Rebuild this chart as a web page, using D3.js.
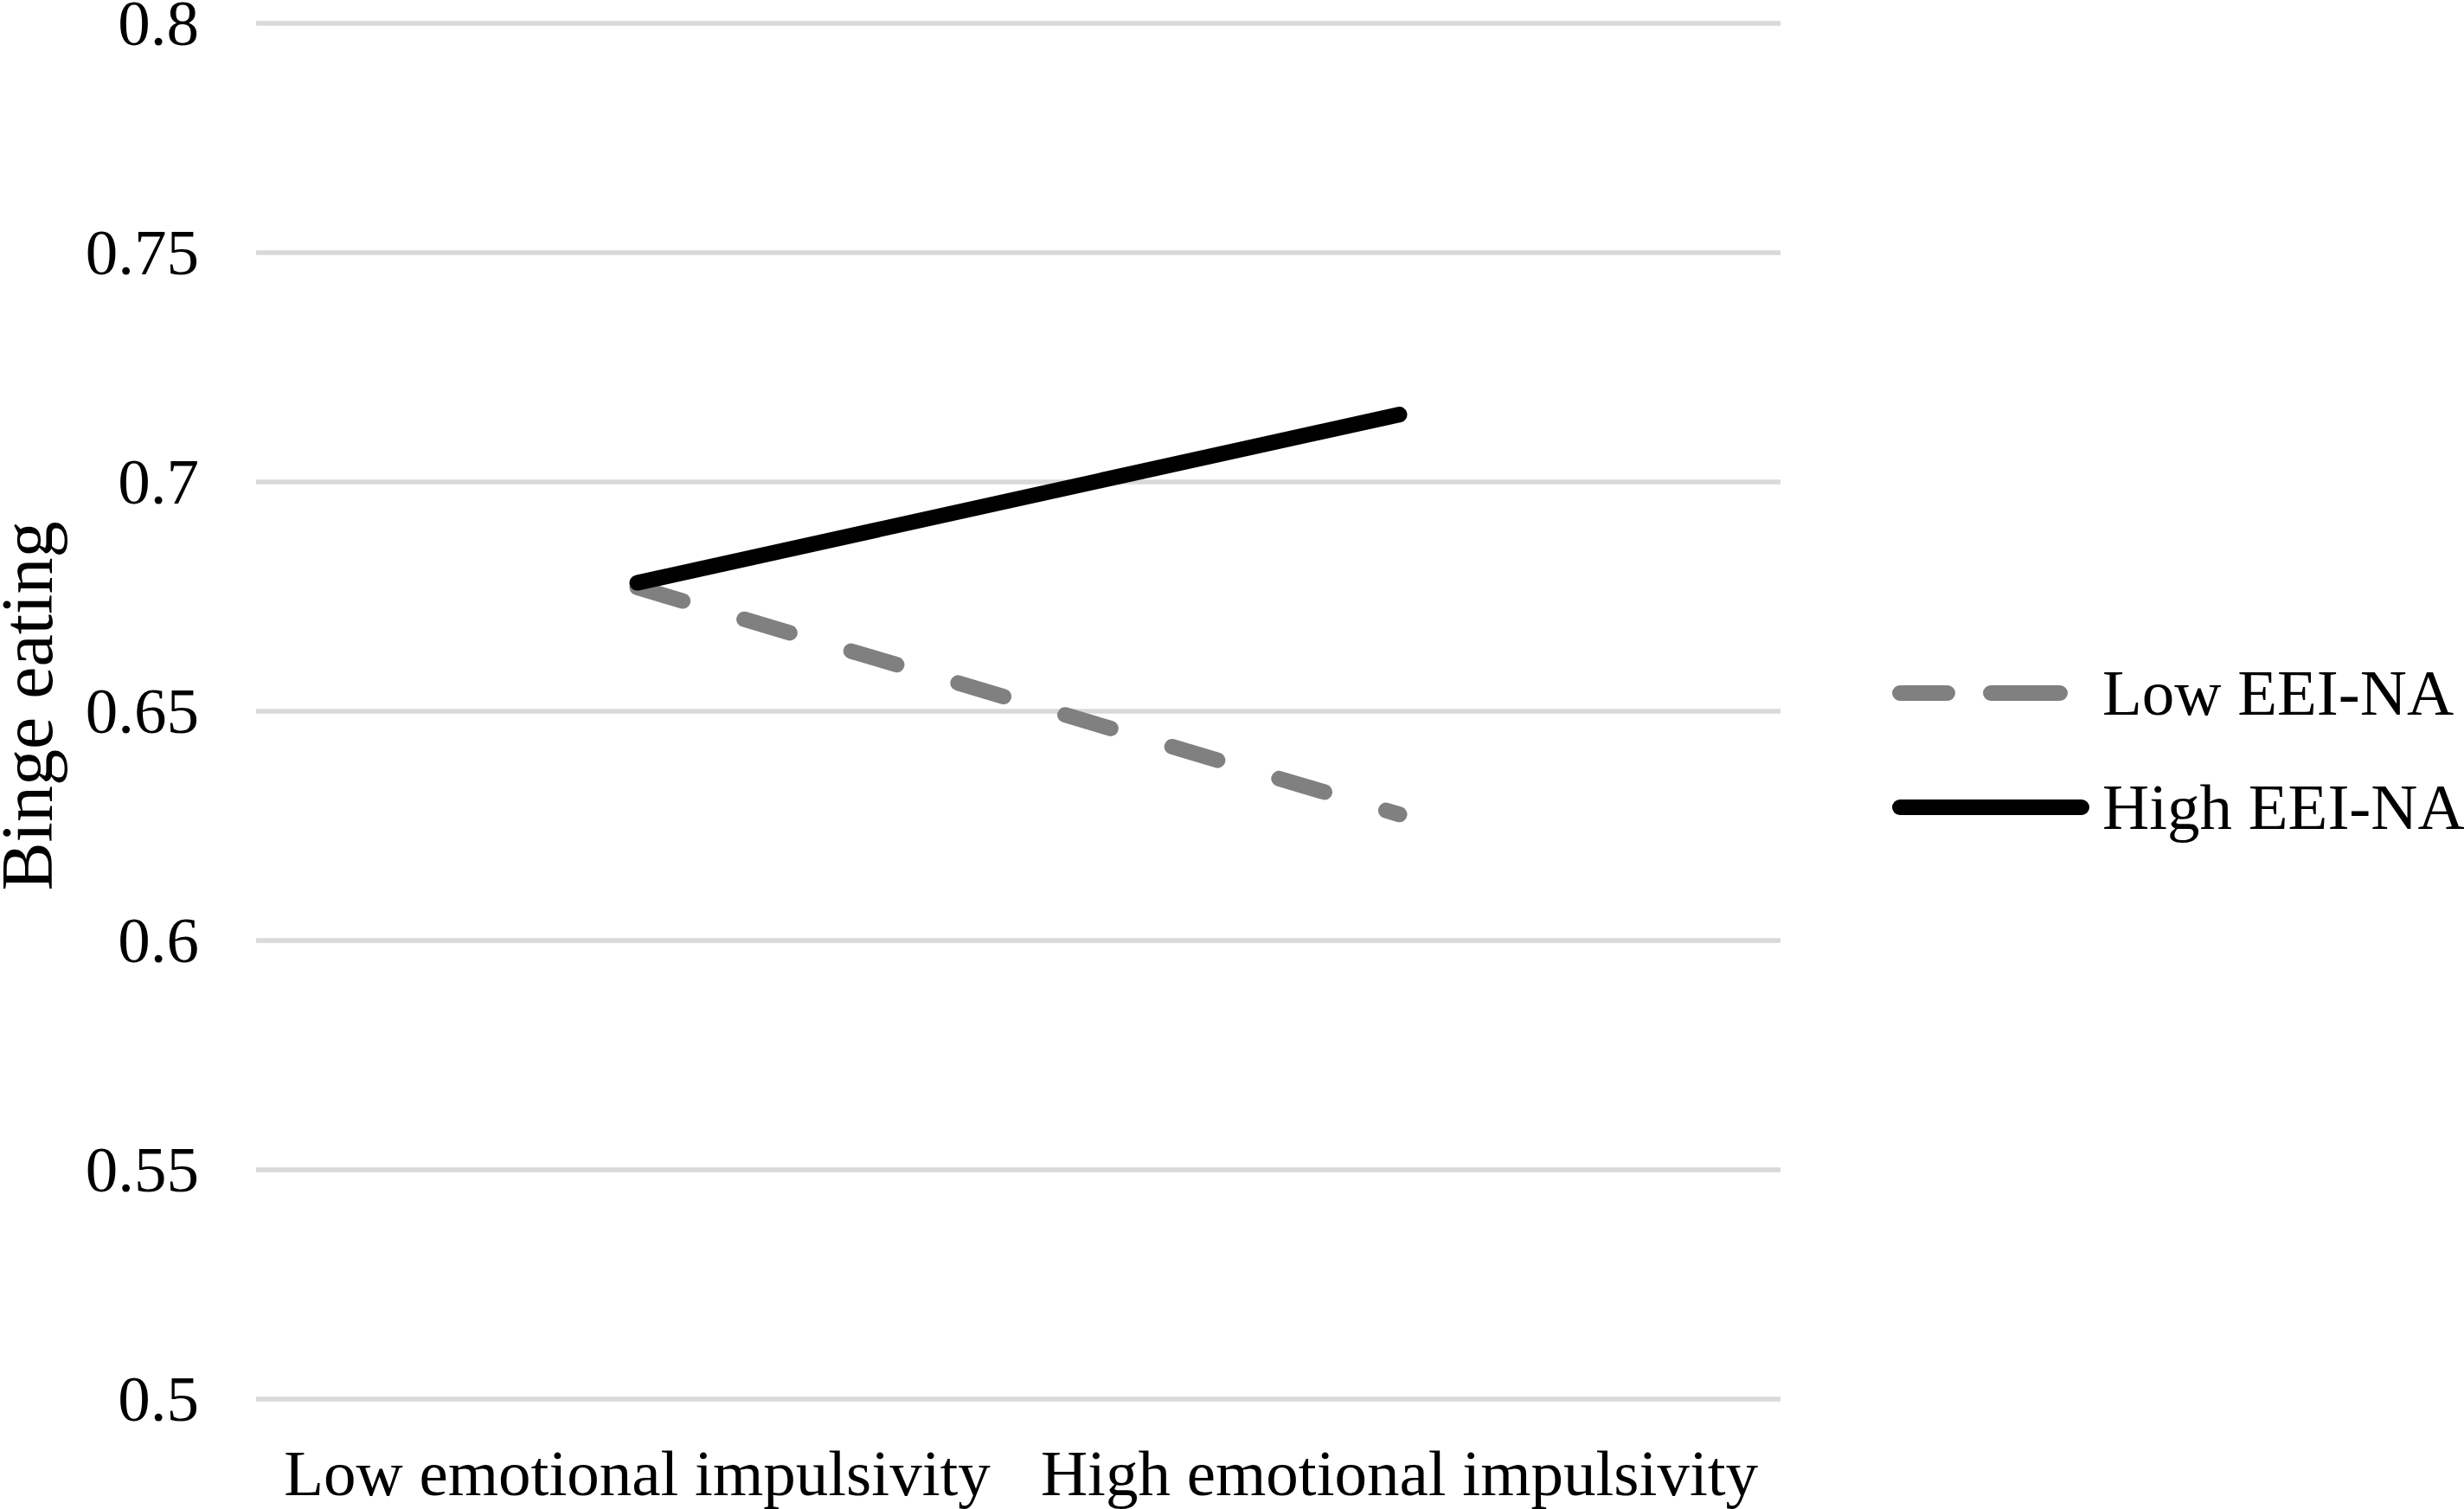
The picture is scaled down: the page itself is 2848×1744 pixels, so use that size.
<!DOCTYPE html>
<html>
<head>
<meta charset="utf-8">
<script src="https://cdn.jsdelivr.net/npm/d3@7"></script>
<style>
  html, body { margin: 0; padding: 0; background: #ffffff; }
  svg { display: block; }
  text { font-family: "Liberation Serif", "Times New Roman", serif; fill: #000; }
</style>
</head>
<body>
<script>
// ---- data ----
const categories = ["Low emotional impulsivity", "High emotional impulsivity"];
const seriesNames = ["Low EEI-NA", "High EEI-NA"];
const lowEEINA = [0.677, 0.6275];
const highEEINA = [0.678, 0.7147];
const yTicks = [0.5, 0.55, 0.6, 0.65, 0.7, 0.75, 0.8];
const yTickLabels = ["0.5", "0.55", "0.6", "0.65", "0.7", "0.75", "0.8"];
const yTitle = "Binge eating";

// ---- layout ----
const W = 2848, H = 1744;
const plotLeft = 296, plotRight = 2058, plotTop = 27, plotBottom = 1617;

const svg = d3.select("body").append("svg")
  .attr("width", W).attr("height", H)
  .attr("viewBox", `0 0 ${W} ${H}`);
svg.append("rect").attr("width", W).attr("height", H).attr("fill", "#ffffff");

const x = d3.scaleBand().domain(categories).range([plotLeft, plotRight]).padding(0);
const y = d3.scaleLinear().domain([0.5, 0.8]).range([plotBottom, plotTop]);
const cx = c => x(c) + x.bandwidth() / 2;

// gridlines
svg.append("g").selectAll("line").data(yTicks).join("line")
  .attr("x1", plotLeft).attr("x2", plotRight)
  .attr("y1", d => y(d)).attr("y2", d => y(d))
  .attr("stroke", "#d9d9d9").attr("stroke-width", 5.5);

// y tick labels
svg.append("g").selectAll("text").data(yTicks).join("text")
  .attr("x", 230).attr("y", d => y(d) + 25)
  .attr("text-anchor", "end")
  .attr("font-size", 75)
  .text((d, i) => yTickLabels[i]);

// x labels
svg.append("g").selectAll("text").data(categories).join("text")
  .attr("x", d => cx(d)).attr("y", 1728)
  .attr("text-anchor", "middle")
  .attr("font-size", 75)
  .text(d => d);

// y title
svg.append("text")
  .attr("transform", `translate(60, ${(plotTop + plotBottom) / 2 - 6}) rotate(-90)`)
  .attr("text-anchor", "middle")
  .attr("font-size", 84)
  .text(yTitle);

// lines
const line = d3.line().x((d, i) => cx(categories[i])).y(d => y(d));
const series = [
  { name: seriesNames[0], values: lowEEINA, color: "#808080", dash: "55,74", legendDash: "55,50,80,50" },
  { name: seriesNames[1], values: highEEINA, color: "#000000", dash: null, legendDash: null }
];

svg.append("g").selectAll("path").data(series).join("path")
  .attr("d", d => line(d.values))
  .attr("fill", "none")
  .attr("stroke", d => d.color)
  .attr("stroke-width", 18)
  .attr("stroke-linecap", "round")
  .attr("stroke-linejoin", "round")
  .attr("stroke-dasharray", d => d.dash);

// legend
const legendY = [801, 933];
const lg = svg.append("g").selectAll("g").data(series).join("g");
lg.append("line")
  .attr("x1", 2196).attr("x2", (d, i) => i === 0 ? 2381 : 2406)
  .attr("y1", (d, i) => legendY[i]).attr("y2", (d, i) => legendY[i])
  .attr("stroke", d => d.color)
  .attr("stroke-width", 18)
  .attr("stroke-linecap", "round")
  .attr("stroke-dasharray", d => d.legendDash);
lg.append("text")
  .attr("x", 2430).attr("y", (d, i) => legendY[i] + 25)
  .attr("font-size", 75)
  .text(d => d.name);
</script>
</body>
</html>
